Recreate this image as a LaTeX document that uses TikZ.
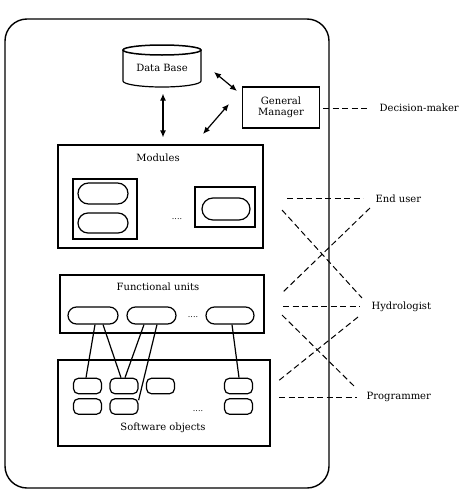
\documentclass[tikz,border=0pt]{standalone}
\usepackage{fontspec}
\setmainfont{DejaVu Serif}
\usetikzlibrary{arrows.meta,shapes.misc}
\begin{document}
\begin{tikzpicture}[x=1pt,y=-1pt,line width=1.2pt,
  txt/.style={inner sep=1pt,font=\fontsize{10}{11.5}\selectfont},
  rlabel/.style={anchor=west,inner sep=2pt,font=\fontsize{10}{11.5}\selectfont},
  box/.style={draw,inner sep=0pt},
  pill/.style={draw,rounded rectangle,inner sep=0pt},
  sobj/.style={draw,rounded corners=5pt,inner sep=0pt,minimum width=28pt,minimum height=15.5pt},
  dots/.style={inner sep=0pt,font=\fontsize{8}{9}\selectfont},
  dbl/.style={{Latex[length=7pt,width=6pt]}-{Latex[length=7pt,width=6pt]},line width=1.2pt},
  dsh/.style={line width=1pt,dash pattern=on 6pt off 3.5pt},
  link/.style={line width=1.2pt}]
\useasboundingbox (0,0) rectangle (462,498);
% outer frame
\node[draw,line width=1.4pt,rounded corners=22pt,minimum width=324pt,minimum height=469pt,inner sep=0pt] (frame) at (167,253.5) {};
% data base cylinder
\draw (123,50) -- (123,81) arc[start angle=180,end angle=0,x radius=39,y radius=6] -- (201,50);
\draw[line width=1.5pt] (162,50) ellipse[x radius=39,y radius=5];
\node[txt,minimum width=78pt,minimum height=42pt] (db) at (162,66) {};
\node[txt] (dbt) at (162,68) {Data Base};
% general manager
\node[box,minimum width=77pt,minimum height=41pt,align=center,font=\fontsize{10}{11.5}\selectfont] (gm) at (281,107.5) {General\\Manager};
% modules
\node[box,minimum width=205pt,minimum height=103pt] (modules) at (160.5,196.5) {};
\node[txt] (modt) at (158,158) {Modules};
\node[box,minimum width=64pt,minimum height=60pt] (mb1) at (105,209) {};
\node[pill,minimum width=50pt,minimum height=21pt] (mp1) at (103,193.5) {};
\node[pill,minimum width=50pt,minimum height=20pt] (mp2) at (103,223) {};
\node[dots] (md) at (177,219) {....};
\node[box,minimum width=60pt,minimum height=40pt] (mb2) at (225,207) {};
\node[pill,minimum width=48pt,minimum height=22pt] (mp3) at (226,209) {};
% functional units
\node[box,minimum width=204pt,minimum height=58pt] (fu) at (162,304) {};
\node[txt] (fut) at (158,287) {Functional units};
\node[pill,minimum width=50pt,minimum height=17pt] (p1) at (93,315.5) {};
\node[pill,minimum width=49pt,minimum height=17pt] (p2) at (151.5,315.5) {};
\node[pill,minimum width=48pt,minimum height=17pt] (p3) at (230,315.5) {};
\node[dots] (fd) at (193,317) {....};
% software objects
\node[box,minimum width=212pt,minimum height=86pt] (so) at (164,403) {};
\node[sobj] (s11) at (87.5,386) {};
\node[sobj] (s12) at (124,386) {};
\node[sobj] (s13) at (160.5,386) {};
\node[sobj] (s14) at (238.5,386) {};
\node[sobj] (s21) at (87.5,406.5) {};
\node[sobj] (s22) at (124,406.5) {};
\node[sobj] (s24) at (238.5,406.5) {};
\node[dots] (sd) at (198,411) {....};
\node[txt] (sot) at (163,428) {Software objects};
% links
\draw[link] ([xshift=2pt]p1.south) -- ([xshift=-1.5pt]s11.north);
\draw[link] ([xshift=10pt]p1.south) -- ([xshift=-3pt]s12.north);
\draw[link] ([xshift=-7.5pt]p2.south) -- ([xshift=1pt]s12.north);
\draw[link] ([xshift=5.5pt]p2.south) -- ([yshift=-2pt]s22.north east);
\draw[link] ([xshift=2pt]p3.south) -- ([xshift=0.5pt]s14.north);
% arrows
\draw[dbl,shorten <=6pt,shorten >=7pt] ([xshift=1pt]db.south) -- ([xshift=1pt]db.south |- modules.north);
\coordinate (ga1) at (214,72);
\coordinate (ga2) at (237,91);
\draw[dbl] (ga1) -- (ga2);
\coordinate (gb1) at (203,134);
\coordinate (gb2) at (229,104);
\draw[dbl] (gb1) -- (gb2);
% right labels
\node[rlabel] (dm) at (377,108) {Decision-maker};
\node[rlabel] (eu) at (373,199) {End user};
\node[rlabel] (hy) at (369,307) {Hydrologist};
\node[rlabel] (pr) at (364,397) {Programmer};
% dashed connectors
\coordinate (dm0) at (323,108);
\draw[dsh] (dm0) -- ([xshift=-9pt]dm.west);
\coordinate (eu0) at (287,198);
\draw[dsh] (eu0) -- ([xshift=-10pt]eu.west |- eu0);
\coordinate (c1a) at (282,210);
\coordinate (c1b) at (362,298);
\draw[dsh] (c1a) -- (c1b);
\coordinate (c2a) at (370,208);
\coordinate (c2b) at (282,293);
\draw[dsh] (c2a) -- (c2b);
\coordinate (hy0) at (283,306);
\draw[dsh] (hy0) -- ([xshift=-9pt]hy.west |- hy0);
\coordinate (c3a) at (282,315);
\coordinate (c3b) at (355,387);
\draw[dsh] (c3a) -- (c3b);
\coordinate (c4a) at (358,317);
\coordinate (c4b) at (277,382);
\draw[dsh] (c4a) -- (c4b);
\coordinate (pr0) at (279,397);
\draw[dsh] (pr0) -- ([xshift=-7pt]pr.west |- pr0);
\end{tikzpicture}
\end{document}
